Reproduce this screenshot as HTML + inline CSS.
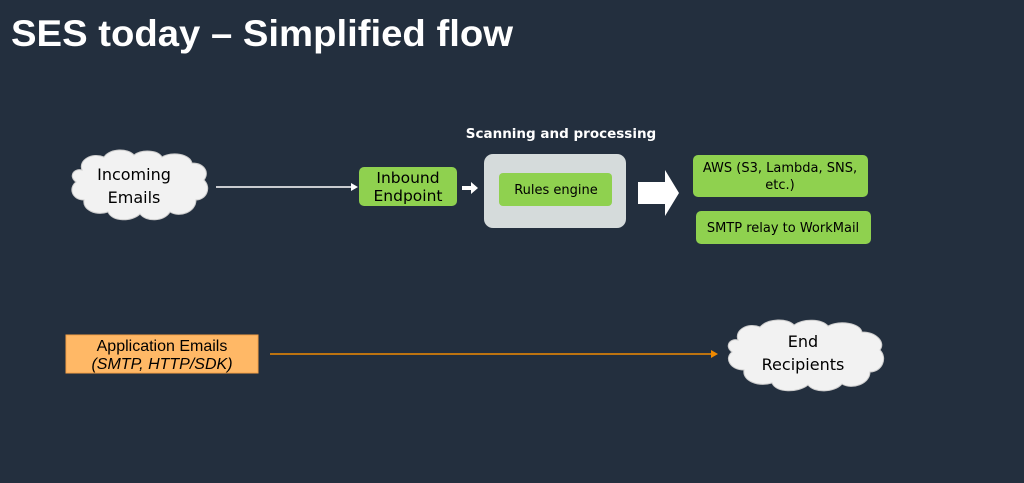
<!DOCTYPE html>
<html><head><meta charset="utf-8"><style>
body{margin:0;background:#232f3e;width:1024px;height:483px;overflow:hidden}
svg{display:block}
text{font-family:"DejaVu Sans","Liberation Sans",sans-serif}
text.lib{font-family:"Liberation Sans",sans-serif}
</style></head><body>
<svg width="1024" height="483" viewBox="0 0 1024 483">
<rect width="1024" height="483" fill="#232f3e"/>
<text class="lib" x="11" y="46" fill="#fff" font-size="37" font-weight="bold" textLength="502" lengthAdjust="spacingAndGlyphs">SES today – Simplified flow</text>
<path d="M82,170 C78,160 92,152 104,157 C110,148 128,148 134,155 C142,149 158,150 162,157 C172,151 190,154 192,163 C204,163 210,172 204,180 C212,188 206,200 196,200 C196,212 180,218 170,212 C164,222 146,222 140,214 C132,222 112,222 108,212 C96,216 82,210 84,200 C72,200 68,188 76,182 C68,176 74,168 82,170 Z" fill="#f2f2f2" stroke="#cccccc"/>
<text x="134" y="180" fill="#000" font-size="16" text-anchor="middle">Incoming</text>
<text x="134" y="203" fill="#000" font-size="16" text-anchor="middle">Emails</text>
<line x1="216" y1="187" x2="352" y2="187" stroke="#fff" stroke-width="1.5"/>
<path d="M358,187 L351,183 L351,191 Z" fill="#fff"/>
<rect x="359" y="167" width="98" height="39" rx="5" fill="#8fd14f"/>
<text x="408" y="183" fill="#000" font-size="15.5" text-anchor="middle">Inbound</text>
<text x="408" y="201" fill="#000" font-size="15.5" text-anchor="middle">Endpoint</text>
<path d="M462,186 L471,186 L471,182 L478,188 L471,194 L471,190 L462,190 Z" fill="#fff"/>
<text x="561" y="138" fill="#fff" font-size="13.5" font-weight="bold" text-anchor="middle">Scanning and processing</text>
<rect x="484" y="154" width="142" height="74" rx="9" fill="#d5dbdb"/>
<rect x="499" y="173" width="113" height="33" rx="4" fill="#8fd14f"/>
<text x="556" y="194" fill="#000" font-size="13" text-anchor="middle">Rules engine</text>
<path d="M638,182 L665,182 L665,170 L679,193 L665,216 L665,204 L638,204 Z" fill="#fff"/>
<rect x="693" y="155" width="175" height="42" rx="5" fill="#8fd14f"/>
<text x="780" y="172" fill="#000" font-size="13" text-anchor="middle">AWS (S3, Lambda, SNS,</text>
<text x="780" y="189" fill="#000" font-size="13" text-anchor="middle">etc.)</text>
<rect x="696" y="211" width="175" height="33" rx="5" fill="#8fd14f"/>
<text x="783" y="232" fill="#000" font-size="13" text-anchor="middle">SMTP relay to WorkMail</text>
<rect x="66" y="335" width="192" height="38" fill="#ffb866" stroke="#f5a047"/>
<text class="lib" x="162" y="351" fill="#000" font-size="16" text-anchor="middle">Application Emails</text>
<text class="lib" x="162" y="369" fill="#000" font-size="16" font-style="italic" text-anchor="middle">(SMTP, HTTP/SDK)</text>
<line x1="270" y1="354" x2="712" y2="354" stroke="#f08a00" stroke-width="1.5"/>
<path d="M718,354 L711,350 L711,358 Z" fill="#f08a00"/>
<path d="M738,340 C734,330 748,322 760,327 C768,318 788,318 794,325 C804,318 822,319 828,326 C840,320 860,323 862,332 C876,332 886,342 880,350 C888,358 882,372 870,372 C870,384 852,390 842,384 C834,393 814,393 808,385 C798,393 776,393 772,383 C758,387 742,381 744,370 C730,370 724,358 732,352 C724,346 730,338 738,340 Z" fill="#f2f2f2" stroke="#cccccc"/>
<text x="803" y="347" fill="#000" font-size="16" text-anchor="middle">End</text>
<text x="803" y="370" fill="#000" font-size="16" text-anchor="middle">Recipients</text>
</svg>
</body></html>
